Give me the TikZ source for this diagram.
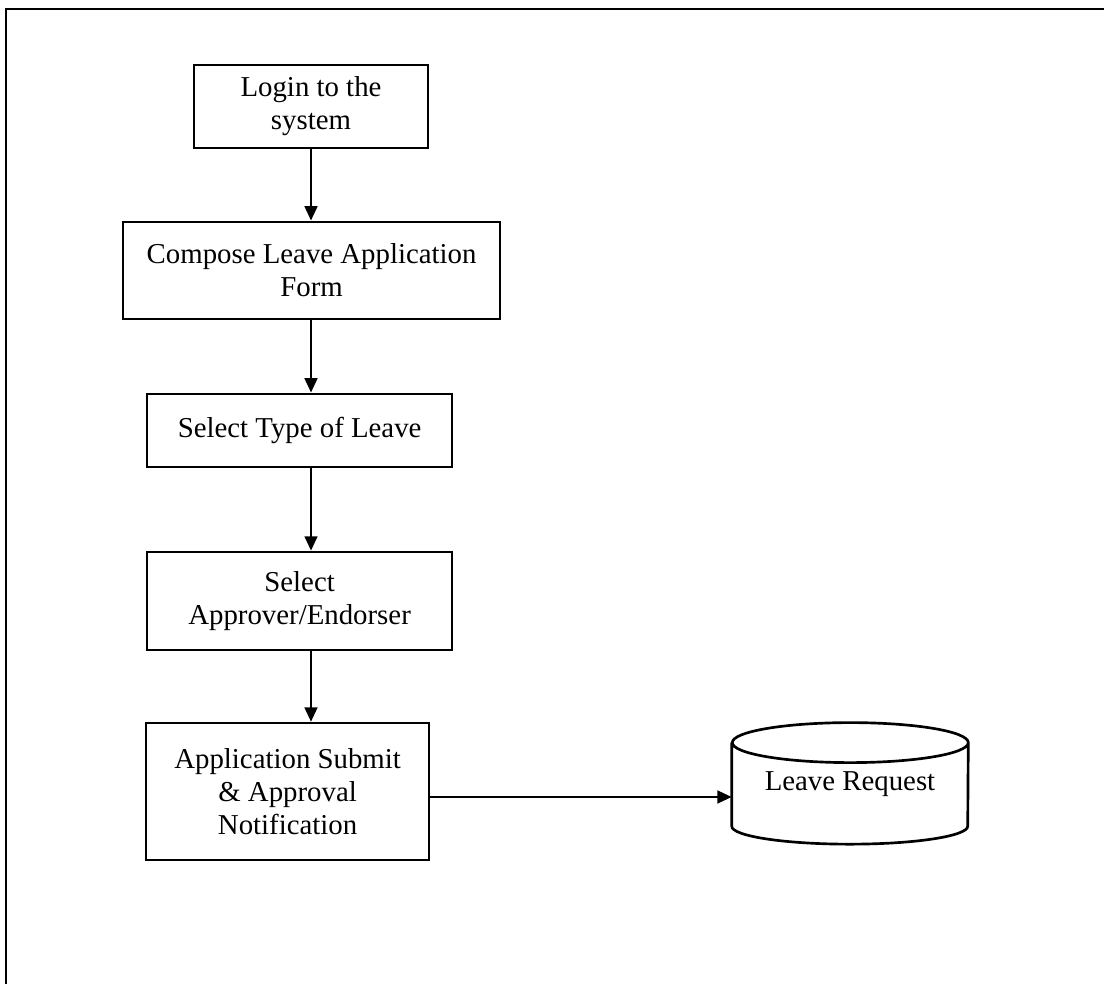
\documentclass[tikz,border=0pt]{standalone}
\usepackage{fontspec}
\setmainfont{Liberation Serif}
\usepackage{tikz}
\usetikzlibrary{arrows.meta,positioning,calc}

\begin{document}
\begin{tikzpicture}[font=\fontsize{20.5}{23.6}\selectfont, >={Triangle[length=.36cm,width=.32cm]}, x=1cm, y=1cm]
\tikzset{procbox/.style={draw=black, line width=1.9pt, align=center, inner sep=0pt}, flow/.style={->, line width=1.6pt}, store/.style={align=center, inner sep=0pt, minimum width=5.9cm, minimum height=2.075cm}}
\useasboundingbox (0,0) rectangle (27.6,24.6);
\draw[line width=2pt] (.15,0) -- (.15,24.375) -- (27.6,24.375);
\node[procbox, minimum width=5.85cm, minimum height=2.075cm] (login) at (7.775,21.94) {Login to the\\system};
\node[procbox, minimum width=9.425cm, minimum height=2.425cm] (compose) at (7.79,17.84) {Compose Leave Application\\Form};
\node[procbox, minimum width=7.625cm, minimum height=1.825cm] (leavetype) at (7.49,13.84) {Select Type of Leave};
\node[procbox, minimum width=7.625cm, minimum height=2.45cm] (approver) at (7.49,9.575) {Select\\Approver/Endorser};
\node[procbox, minimum width=7.075cm, minimum height=3.425cm] (submit) at (7.19,4.81) {Application Submit\\\& Approval\\Notification};
\node[store] (request) at (21.25,4.99) {Leave Request};
% cylinder round the store node
\draw[line width=1.9pt] (request.north west) -- (request.south west) arc[start angle=180, end angle=360, x radius=2.95cm, y radius=.45cm] -- (request.north east) arc[start angle=0, end angle=360, x radius=2.95cm, y radius=.5cm];
\draw[flow] (login.south) -- (login.south |- compose.north);
\draw[flow] (compose.south -| login.south) -- (leavetype.north -| login.south);
\draw[flow] (leavetype.south -| login.south) -- (approver.north -| login.south);
\draw[flow] (approver.south -| login.south) -- (submit.north -| login.south);
\draw[flow] (submit.east |- 0,4.675) -- (request.west |- 0,4.675);
\end{tikzpicture}
\end{document}
